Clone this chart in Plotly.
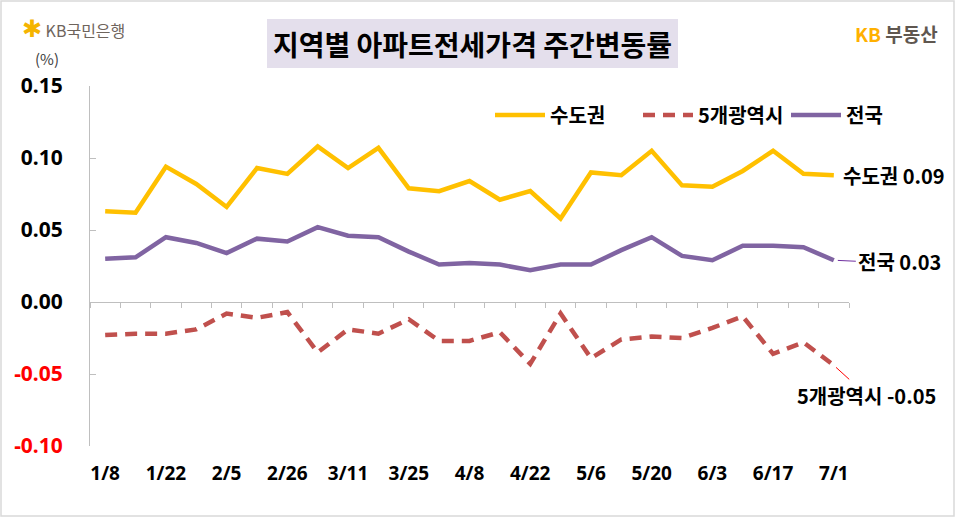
import plotly.graph_objects as go

# ---- data ----
weeks = ["1/8", "1/15", "1/22", "1/29", "2/5", "2/19", "2/26", "3/4", "3/11", "3/18",
         "3/25", "4/1", "4/8", "4/15", "4/22", "4/29", "5/6", "5/13", "5/20", "5/27",
         "6/3", "6/10", "6/17", "6/24", "7/1"]
capital = [0.063, 0.062, 0.094, 0.082, 0.066, 0.093, 0.089, 0.108, 0.093, 0.107,
           0.079, 0.077, 0.084, 0.071, 0.077, 0.058, 0.090, 0.088, 0.105, 0.081,
           0.080, 0.091, 0.105, 0.089, 0.088]
metro5 = [-0.023, -0.022, -0.022, -0.019, -0.008, -0.011, -0.007, -0.035, -0.019, -0.022,
          -0.012, -0.027, -0.027, -0.021, -0.043, -0.008, -0.039, -0.026, -0.024, -0.025,
          -0.018, -0.010, -0.036, -0.028, -0.044]
nation = [0.030, 0.031, 0.045, 0.041, 0.034, 0.044, 0.042, 0.052, 0.046, 0.045,
          0.035, 0.026, 0.027, 0.026, 0.022, 0.026, 0.026, 0.036, 0.045, 0.032,
          0.029, 0.039, 0.039, 0.038, 0.029]
series_names = ["수도권", "5개광역시", "전국"]
end_labels = ["수도권 0.09", "5개광역시 -0.05", "전국 0.03"]
y_ticks = [0.15, 0.10, 0.05, 0.00, -0.05, -0.10]
y_ticktext = ["0.15", "0.10", "0.05", "0.00",
              '<span style="color:#ff0000">-0.05</span>',
              '<span style="color:#ff0000">-0.10</span>']
x_ticks = weeks[::2]
title_text = "지역별 아파트전세가격 주간변동률"

# ---- geometry helpers (pixels -> paper) ----
W, H = 957, 518
L, R, T, B = 90, 108, 86, 72
PW, PH = W - L - R, H - T - B
def px(x):
    return (x - L) / PW
def py(y):
    return (H - B - y) / PH

YELLOW = "#FFC000"
RED = "#C0504D"
PURPLE = "#8064A2"
GRAY = "#BFBFBF"
KR = "Noto Sans CJK KR, Noto Sans, sans-serif"

fig = go.Figure()
fig.add_trace(go.Scatter(x=weeks, y=capital, name=series_names[0], mode="lines",
                         line=dict(color=YELLOW, width=4.5)))
fig.add_trace(go.Scatter(x=weeks, y=metro5, name=series_names[1], mode="lines",
                         line=dict(color=RED, width=4.5, dash="12px,8px")))
fig.add_trace(go.Scatter(x=weeks, y=nation, name=series_names[2], mode="lines",
                         line=dict(color=PURPLE, width=4.5)))
# helper trace so the zero-line category axis gets its categories
fig.add_trace(go.Scatter(x=weeks, y=[0] * len(weeks), xaxis="x2", mode="lines",
                         line=dict(width=0), opacity=0, showlegend=False,
                         hoverinfo="skip"))

zero_pos = (0 - (-0.10)) / (0.15 - (-0.10))

fig.update_layout(
    width=W, height=H,
    margin=dict(l=L, r=R, t=T, b=B, autoexpand=False),
    paper_bgcolor="white", plot_bgcolor="white",
    font=dict(family=KR, color="black"),
    showlegend=True,
    legend=dict(orientation="h", xref="paper", yref="paper",
                x=px(490), y=py(115), xanchor="left", yanchor="middle",
                font=dict(size=20, family=KR, weight="bold"),
                bgcolor="rgba(0,0,0,0)", itemwidth=50, traceorder="normal",
                entrywidth=83, entrywidthmode="pixels"),
    xaxis=dict(type="category", categoryorder="array", categoryarray=weeks,
               range=[-0.5, len(weeks) - 0.5], showline=False, showgrid=False,
               zeroline=False, ticks="", tickmode="array", tickvals=x_ticks,
               ticktext=x_ticks, ticklabelstandoff=14,
               tickfont=dict(size=19, family="Noto Sans, sans-serif", weight="bold")),
    xaxis2=dict(type="category", categoryorder="array", categoryarray=weeks,
                range=[-0.5, len(weeks) - 0.5], overlaying="x", anchor="free",
                position=zero_pos, side="bottom", showline=True, linecolor=GRAY,
                linewidth=1, ticks="outside", ticklen=5, tickcolor=GRAY,
                tickson="boundaries", showticklabels=False, showgrid=False,
                zeroline=False),
    yaxis=dict(range=[-0.10, 0.15], tickmode="array", tickvals=y_ticks,
               ticktext=y_ticktext, showline=True, linecolor=GRAY, linewidth=1,
               ticks="inside", ticklen=6, tickcolor=GRAY, showgrid=False,
               zeroline=False, ticklabelstandoff=22,
               tickfont=dict(size=21, family="Noto Sans, sans-serif", weight="bold",
                             color="black")),
)

annotations = [
    # title box
    dict(text=f"<b>{title_text}</b>", xref="paper", yref="paper",
         x=px(472.5), y=py(43.5), xanchor="center", yanchor="middle",
         showarrow=False, bgcolor="#E4DFEC", borderpad=3, borderwidth=0,
         width=405, height=43, font=dict(size=28, family=KR, color="black")),
    # KB bank logo
    dict(text='<span style="color:#F5B400;font-size:24px">✱</span> KB국민은행',
         xref="paper", yref="paper",
         x=px(20), y=py(27), xanchor="left", yanchor="middle", showarrow=False,
         font=dict(size=16, family=KR, color="#6E645C")),
    # unit
    dict(text="(%)", xref="paper", yref="paper", x=px(47), y=py(58),
         xanchor="center", yanchor="middle", showarrow=False,
         font=dict(size=15, family=KR, color="#404040")),
    # KB 부동산
    dict(text='<b><span style="color:#FFB000">KB</span> 부동산</b>', xref="paper", yref="paper",
         x=px(940), y=py(33), xanchor="right", yanchor="middle", showarrow=False,
         font=dict(size=19, family=KR, color="#5F5750")),
    # end labels
    dict(text=f"<b>{end_labels[0]}</b>", x=weeks[-1], y=capital[-1], xref="x", yref="y",
         xanchor="left", yanchor="middle", xshift=7, showarrow=False,
         font=dict(size=20, family=KR, color="black")),
    dict(text=f"<b>{end_labels[2]}</b>", x=weeks[-1], y=nation[-1], xref="x", yref="y",
         xanchor="left", yanchor="middle", showarrow=True, arrowhead=0,
         arrowwidth=1, arrowcolor="#7030A0", ax=22, ay=1, standoff=4,
         font=dict(size=20, family=KR, color="black")),
    dict(text=f"<b>{end_labels[1]}</b>", x=weeks[-1], y=metro5[-1], xref="x", yref="y",
         xanchor="center", yanchor="middle", showarrow=True, arrowhead=0,
         arrowwidth=1, arrowcolor="#FF0000", ax=33, ay=30, standoff=3,
         font=dict(size=20, family=KR, color="black")),
]
fig.update_layout(annotations=annotations)

fig.add_shape(type="rect", xref="paper", yref="paper",
              x0=px(1), x1=px(954), y0=py(516), y1=py(1),
              line=dict(color="#D9D9D9", width=1.5), fillcolor="rgba(0,0,0,0)",
              layer="below")

fig.write_html("out.html", config={"displayModeBar": False},
               post_script="document.body.style.margin='0';document.body.style.overflow='hidden';")
